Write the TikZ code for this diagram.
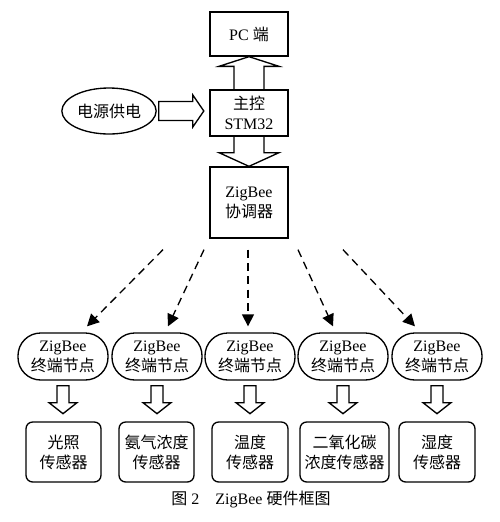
\documentclass[tikz,border=0pt]{standalone}
\usepackage{fontspec}
\setmainfont{Liberation Serif}
\newfontfamily\cjk{Noto Sans CJK SC}
\usetikzlibrary{arrows.meta,calc,shapes.geometric}

\begin{document}
\begin{tikzpicture}[x=0.75pt, y=-0.75pt, >={Triangle[length=9pt,width=9pt]},
  every node/.style={font=\fontsize{12}{15}\selectfont, align=center},
  box/.style={draw, line width=1pt, minimum width=58.5pt, inner sep=2pt},
  endnode/.style={draw, line width=1pt, rounded corners=17pt, minimum width=67.5pt, minimum height=35.25pt, inner sep=1pt},
  sensor/.style={draw, line width=1pt, rounded corners=5pt, minimum height=45pt, inner sep=2pt},
  fat/.style={draw, line width=1pt, line join=miter},
  link/.style={->, line width=1pt, dash pattern=on 6pt off 4pt}]
  \useasboundingbox (0,0) rectangle (500,522);

  \node[box, minimum height=33pt] (pc) at (249,34) {PC {\cjk 端}};
  \node[box, minimum height=34.5pt] (main) at (249,113) {{\cjk 主控}\\STM32};
  \node[box, minimum height=53.25pt] (coord) at (249,202.5) {ZigBee\\{\cjk 协调器}};
  \node[draw, line width=1pt, ellipse, inner sep=1pt, minimum width=70.5pt, minimum height=34.5pt] (power) at (109,111) {{\cjk 电源供电}};

  % block arrows
  \draw[fat] ($(main.north)+(-15,0)$) -- ++(0,-23) -- ++(-15,0) -- (pc.south) -- ($(main.north)+(30,-23)$) -- ++(-15,0) -- ($(main.north)+(15,0)$);
  \draw[fat] ($(main.south)+(-15,0)$) -- ++(0,16) -- ++(-15,0) -- (coord.north) -- ($(main.south)+(30,16)$) -- ++(-15,0) -- ($(main.south)+(15,0)$);
  \draw[fat] ($(power.east)+(2,-9.5)$) -- ++(34,0) -- ++(0,-6.5) -- ($(power.east)+(47,0)$) -- ($(power.east)+(36,16)$) -- ++(0,-6.5) -- ($(power.east)+(2,9.5)$) -- cycle;

  \node[endnode] (e1) at (63,356.5) {ZigBee\\{\cjk 终端节点}};
  \node[endnode] (e2) at (157,356.5) {ZigBee\\{\cjk 终端节点}};
  \node[endnode] (e3) at (250,356.5) {ZigBee\\{\cjk 终端节点}};
  \node[endnode] (e4) at (343,356.5) {ZigBee\\{\cjk 终端节点}};
  \node[endnode] (e5) at (437,356.5) {ZigBee\\{\cjk 终端节点}};

  \draw[link] ($(coord.south)+(-86,11)$) -- ($(e1.north)+(24,-6)$);
  \draw[link] ($(coord.south)+(-45,11)$) -- ($(e2.north)+(11,-6)$);
  \draw[link] ($(coord.south)+(-1,11)$) -- ($(e3.north)+(-2,-6)$);
  \draw[link] ($(coord.south)+(49,11)$) -- ($(e4.north)+(-10,-6)$);
  \draw[link] ($(coord.south)+(94,11)$) -- ($(e5.north)+(-22,-6)$);

  \node[sensor, minimum width=56.25pt] (s1) at (63.5,452) {{\cjk 光照}\\{\cjk 传感器}};
  \node[sensor, minimum width=56.25pt] (s2) at (156.5,452) {{\cjk 氨气浓度}\\{\cjk 传感器}};
  \node[sensor, minimum width=57pt] (s3) at (250,452) {{\cjk 温度}\\{\cjk 传感器}};
  \node[sensor, minimum width=66.75pt] (s4) at (344.5,452) {{\cjk 二氧化碳}\\{\cjk 浓度传感器}};
  \node[sensor, minimum width=57pt] (s5) at (437,452) {{\cjk 湿度}\\{\cjk 传感器}};

  \draw[fat] ($(e1.south)+(-6,5)$) -- ++(0,17) -- ++(-8,0) -- ($(e1.south)+(0,33)$) -- ($(e1.south)+(14,22)$) -- ++(-8,0) -- ($(e1.south)+(6,5)$) -- cycle;
  \draw[fat] ($(e2.south)+(-6,5)$) -- ++(0,17) -- ++(-8,0) -- ($(e2.south)+(0,33)$) -- ($(e2.south)+(14,22)$) -- ++(-8,0) -- ($(e2.south)+(6,5)$) -- cycle;
  \draw[fat] ($(e3.south)+(-6,5)$) -- ++(0,17) -- ++(-8,0) -- ($(e3.south)+(0,33)$) -- ($(e3.south)+(14,22)$) -- ++(-8,0) -- ($(e3.south)+(6,5)$) -- cycle;
  \draw[fat] ($(e4.south)+(-6,5)$) -- ++(0,17) -- ++(-8,0) -- ($(e4.south)+(0,33)$) -- ($(e4.south)+(14,22)$) -- ++(-8,0) -- ($(e4.south)+(6,5)$) -- cycle;
  \draw[fat] ($(e5.south)+(-6,5)$) -- ++(0,17) -- ++(-8,0) -- ($(e5.south)+(0,33)$) -- ($(e5.south)+(14,22)$) -- ++(-8,0) -- ($(e5.south)+(6,5)$) -- cycle;

  \node (cap) at (251,499) {{\cjk 图} 2\quad ZigBee {\cjk 硬件框图}};
\end{tikzpicture}
\end{document}
